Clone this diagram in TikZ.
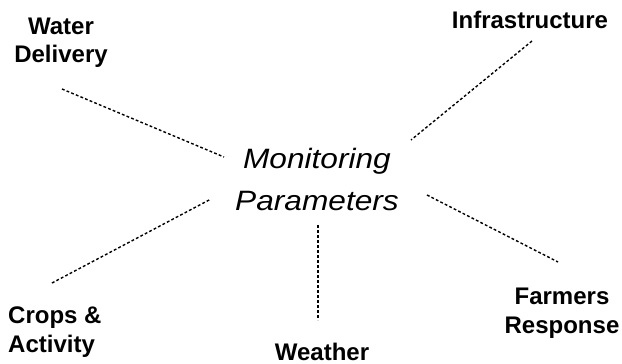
\documentclass[tikz,border=0pt]{standalone}
\usepackage{fontspec}
\usepackage{graphicx}
\setmainfont{Liberation Sans}
\tikzset{
  lbl/.style={font=\bfseries\fontsize{24}{28.5}\selectfont, align=center, inner sep=0pt, anchor=base},
  ctr/.style={font=\itshape\fontsize{28}{42}\selectfont, align=center, inner sep=0pt, anchor=base},
  dotline/.style={line width=1.4pt, dash pattern=on 2.8pt off 2.2pt}
}
\begin{document}
\begin{tikzpicture}[x=1pt,y=-1pt]
\useasboundingbox (0,0) rectangle (622,364);
\node[ctr] (mp) at (317,210) {\scalebox{1.13}[1]{Monitoring}\\\scalebox{1.13}[1]{Parameters}};
\node[lbl] (wd) at (61,63) {Water\\Delivery};
\node[lbl] (inf) at (530,28) {Infrastructure};
\node[lbl, align=left, anchor=base west] (ca) at (8,352) {Crops \&\\Activity};
\node[lbl] (we) at (322,360) {Weather};
\node[lbl] (fr) at (562,333) {Farmers\\Response};
\coordinate (wd1) at (62,89);  \coordinate (wd2) at (224,157);
\coordinate (in1) at (532,41); \coordinate (in2) at (411,140);
\coordinate (ca1) at (52,283); \coordinate (ca2) at (211,199);
\coordinate (we1) at (318,225); \coordinate (we2) at (318,320);
\coordinate (fr1) at (427,195); \coordinate (fr2) at (558,262);
\draw[dotline] (wd1) -- (wd2);
\draw[dotline] (in1) -- (in2);
\draw[dotline] (ca1) -- (ca2);
\draw[dotline] (we1) -- (we2);
\draw[dotline] (fr1) -- (fr2);
\end{tikzpicture}
\end{document}
